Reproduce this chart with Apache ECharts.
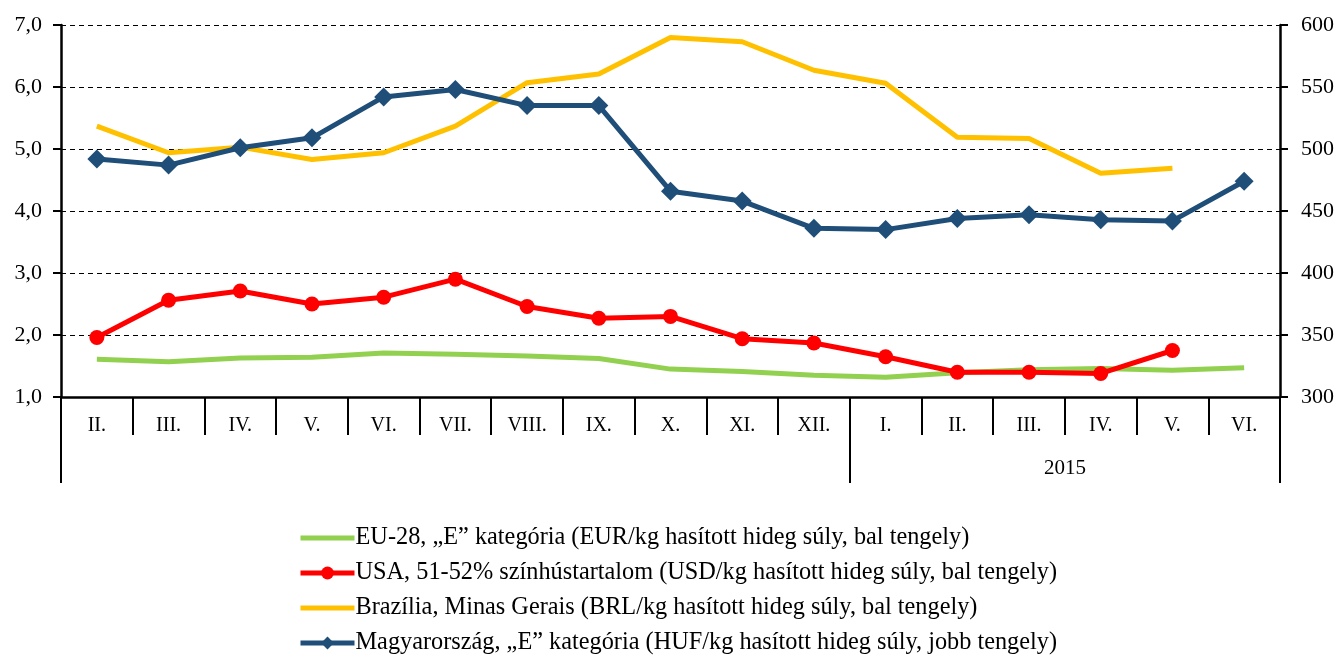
<!DOCTYPE html>
<html>
<head>
<meta charset="utf-8">
<script src="https://cdn.jsdelivr.net/npm/echarts@6/dist/echarts.min.js"></script>
<style>
  html, body { margin: 0; padding: 0; background: #fff; }
  #chart { width: 1341px; height: 657px; }
</style>
</head>
<body>
<div id="chart"></div>
<script>
// hónapok (2014 II. - 2015 VI.)
const months = ['II.', 'III.', 'IV.', 'V.', 'VI.', 'VII.', 'VIII.', 'IX.', 'X.', 'XI.', 'XII.', 'I.', 'II.', 'III.', 'IV.', 'V.', 'VI.'];
const yearLabel = '2015';

const names = [
  'EU-28, \u201eE\u201d kategória (EUR/kg hasított hideg súly, bal tengely)',
  'USA, 51-52% színhústartalom (USD/kg hasított hideg súly, bal tengely)',
  'Brazília, Minas Gerais (BRL/kg hasított hideg súly, bal tengely)',
  'Magyarország, \u201eE\u201d kategória (HUF/kg hasított hideg súly, jobb tengely)'
];

const eu = [1.61, 1.57, 1.63, 1.64, 1.71, 1.69, 1.66, 1.62, 1.45, 1.41, 1.35, 1.32, 1.39, 1.44, 1.46, 1.43, 1.47];
const usa = [1.96, 2.56, 2.71, 2.50, 2.61, 2.90, 2.46, 2.27, 2.30, 1.94, 1.87, 1.65, 1.40, 1.40, 1.38, 1.75, null];
const brazil = [5.37, 4.94, 5.03, 4.83, 4.94, 5.37, 6.07, 6.21, 6.80, 6.73, 6.27, 6.06, 5.19, 5.17, 4.61, 4.69, null];
const hungary = [492, 487, 501, 509, 542, 548, 535, 535, 466, 458, 436, 435, 444, 447, 443, 442, 474];

const font = 'Liberation Serif';

const chart = echarts.init(document.getElementById('chart'));
chart.setOption({
  animation: false,
  textStyle: { fontFamily: font, color: '#000' },
  grid: { left: 61, right: 61, top: 25, bottom: 260 },
  legend: {
    orient: 'vertical',
    left: 298,
    top: 525,
    height: 150,
    padding: 0,
    itemGap: 9,
    itemWidth: 54,
    itemHeight: 16,
    lineStyle: { width: 5 },
    textStyle: { fontFamily: font, fontSize: 24.3, lineHeight: 26, color: '#000', padding: [0, 0, 0, -4] },
    data: [
      { name: names[0], itemStyle: { opacity: 0 } },
      { name: names[1] },
      { name: names[2], itemStyle: { opacity: 0 } },
      { name: names[3] }
    ]
  },
  xAxis: [
    {
      type: 'category',
      data: months,
      boundaryGap: true,
      axisLine: { lineStyle: { color: '#000', width: 2.5 } },
      axisTick: { show: true, interval: 0, length: 38, lineStyle: { color: '#000', width: 2 } },
      axisLabel: { interval: 0, fontSize: 20, color: '#000', margin: 19, fontFamily: font }
    },
    {
      type: 'value',
      position: 'bottom',
      min: 0,
      max: 17,
      axisLine: { show: false },
      splitLine: { show: false },
      axisTick: { show: true, length: 86, customValues: [0, 11, 17], lineStyle: { color: '#000', width: 2 } },
      axisLabel: { customValues: [14], formatter: () => yearLabel, fontSize: 21, color: '#000', margin: 61, fontFamily: font }
    }
  ],
  yAxis: [
    {
      type: 'value',
      min: 1, max: 7, interval: 1,
      axisLine: { show: true, lineStyle: { color: '#000', width: 2.5 } },
      axisTick: { show: true, length: 8, lineStyle: { color: '#000', width: 2 } },
      axisLabel: { fontSize: 22, color: '#000', margin: 19, fontFamily: font, formatter: v => v.toFixed(1).replace('.', ',') },
      splitLine: { show: true, lineStyle: { color: '#000', type: [5, 4], width: 1 } }
    },
    {
      type: 'value',
      min: 300, max: 600, interval: 50,
      position: 'right',
      axisLine: { show: true, lineStyle: { color: '#000', width: 2.5 } },
      axisTick: { show: true, length: 8, lineStyle: { color: '#000', width: 2 } },
      axisLabel: { fontSize: 22, color: '#000', margin: 21, fontFamily: font },
      splitLine: { show: false }
    }
  ],
  series: [
    {
      name: names[0], type: 'line', data: eu, yAxisIndex: 0,
      symbol: 'none', lineStyle: { color: '#92D050', width: 5 }, itemStyle: { color: '#92D050' }
    },
    {
      name: names[1], type: 'line', data: usa, yAxisIndex: 0,
      symbol: 'circle', symbolSize: 15, lineStyle: { color: '#FF0000', width: 5 }, itemStyle: { color: '#FF0000' }
    },
    {
      name: names[2], type: 'line', data: brazil, yAxisIndex: 0,
      symbol: 'none', lineStyle: { color: '#FFC000', width: 5 }, itemStyle: { color: '#FFC000' }
    },
    {
      name: names[3], type: 'line', data: hungary, yAxisIndex: 1,
      symbol: 'diamond', symbolSize: 19, lineStyle: { color: '#1F4E79', width: 5 }, itemStyle: { color: '#1F4E79' }
    }
  ]
});
</script>
</body>
</html>
